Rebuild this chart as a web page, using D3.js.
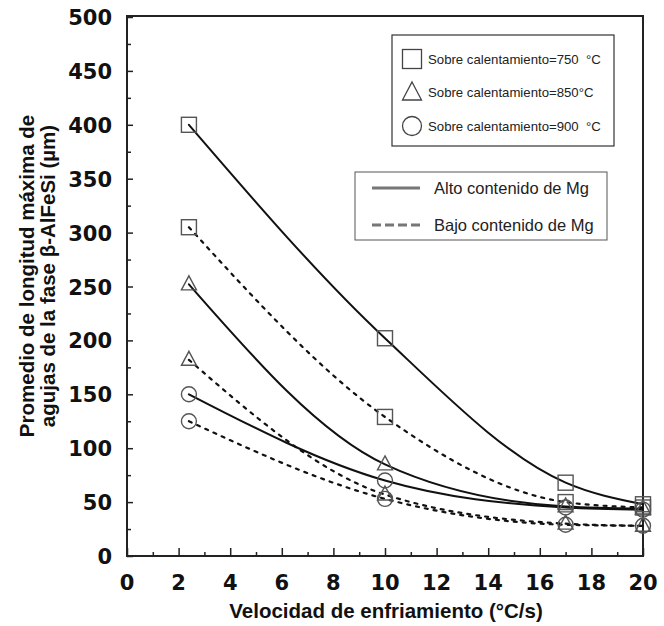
<!DOCTYPE html>
<html><head><meta charset="utf-8">
<script src="https://cdn.jsdelivr.net/npm/d3@7/dist/d3.min.js"></script>
<style>body{margin:0;background:#fff}</style>
</head><body>
<svg id="c" width="664" height="626"></svg>
<script>
const xVals = [2.4, 10, 17, 20];
const xTicks = [0,2,4,6,8,10,12,14,16,18,20];
const yTicks = [0,50,100,150,200,250,300,350,400,450,500];
const s750Alto = [400, 202, 68, 48];
const s750Bajo = [305, 129, 50, 45];
const s850Alto = [252, 85, 46, 44];
const s850Bajo = [182, 57, 30, 28];
const s900Alto = [150, 70, 45, 43];
const s900Bajo = [125, 53, 29, 28];
const legendMarkers = ["Sobre calentamiento=750  \u00b0C","Sobre calentamiento=850\u00b0C","Sobre calentamiento=900  \u00b0C"];
const legendLines = ["Alto contenido de Mg","Bajo contenido de Mg"];

const series = [
  {v:s750Alto, shape:"square", dash:false},
  {v:s750Bajo, shape:"square", dash:true},
  {v:s850Alto, shape:"triangle", dash:false},
  {v:s850Bajo, shape:"triangle", dash:true},
  {v:s900Alto, shape:"circle", dash:false},
  {v:s900Bajo, shape:"circle", dash:true}
];

const svg = d3.select("#c");
const L=127, R=643, T=17, B=556;
const x = d3.scaleLinear().domain([0,20]).range([L,R]);
const y = d3.scaleLinear().domain([0,500]).range([B,T]);
const font = "Liberation Sans, Arial, sans-serif";
const tickFont = "DejaVu Sans, sans-serif";

// frame
svg.append("rect").attr("x",L).attr("y",T-1).attr("width",R-L).attr("height",B-T+1)
  .attr("fill","none").attr("stroke","#222").attr("stroke-width",2);

// y axis
const yAx = svg.append("g").attr("transform",`translate(${L},0)`)
  .call(d3.axisRight(y).tickValues(d3.range(0,501,25)).tickSize(0).tickFormat(""));
yAx.select(".domain").remove();
yAx.selectAll(".tick line").attr("x2",d=>d%50===0?6:4).attr("stroke","#222").attr("stroke-width",1.5);
svg.append("g").selectAll("text").data(yTicks).join("text")
  .attr("x",112).attr("y",d=>y(d)+8).attr("text-anchor","end")
  .attr("font-family",tickFont).attr("font-weight","bold")
  .attr("font-size",21).attr("fill","#111").text(d=>d);

// x axis
const xAx = svg.append("g").attr("transform",`translate(0,${B})`)
  .call(d3.axisTop(x).tickValues(d3.range(0,21,1)).tickSize(0).tickFormat(""));
xAx.select(".domain").remove();
xAx.selectAll(".tick line").attr("y2",d=>d%2===0?-8:-4).attr("stroke","#222").attr("stroke-width",1.5);
svg.append("g").selectAll("text").data(xTicks).join("text")
  .attr("x",d=>x(d)).attr("y",B+34).attr("text-anchor","middle")
  .attr("font-family",tickFont).attr("font-weight","bold")
  .attr("font-size",21).attr("fill","#111").text(d=>d);

// axis titles
svg.append("text").attr("x",386).attr("y",618).attr("text-anchor","middle")
  .attr("font-family",font).attr("font-weight","bold")
  .attr("font-size",20.5).attr("fill","#111").text("Velocidad de enfriamiento (\u00b0C/s)");
const yt = svg.append("text").attr("transform","translate(0,276) rotate(-90)")
  .attr("text-anchor","middle").attr("font-family",font)
  .attr("font-weight","bold").attr("font-size",20.5).attr("fill","#111");
yt.append("tspan").attr("x",0).attr("y",34).text("Promedio de longitud m\u00e1xima de");
yt.append("tspan").attr("x",0).attr("y",55).text("agujas de la fase \u03b2-AlFeSi (\u00b5m)");

// curves
const line = d3.line().x(d=>x(d[0])).y(d=>y(d[1])).curve(d3.curveMonotoneX);
svg.append("g").selectAll("path").data(series).join("path")
  .attr("d",s=>line(xVals.map((xv,i)=>[xv,s.v[i]])))
  .attr("fill","none").attr("stroke","#111").attr("stroke-width",d=>d.dash?2.2:2)
  .attr("stroke-dasharray",d=>d.dash?"3,6":null).attr("stroke-linecap","round");

// markers
function drawMarker(g, shape, cx, cy, r){
  if(shape==="square") g.append("rect").attr("x",cx-r).attr("y",cy-r).attr("width",2*r).attr("height",2*r);
  else if(shape==="triangle") g.append("path").attr("d",`M${cx},${cy-r-1}L${cx+r},${cy+r-2}L${cx-r},${cy+r-2}Z`);
  else g.append("circle").attr("cx",cx).attr("cy",cy).attr("r",r);
}
const mg = svg.append("g").attr("fill","none").attr("stroke","#555").attr("stroke-width",1.4);
series.forEach(s=>{
  xVals.forEach((xv,i)=>drawMarker(mg, s.shape, x(xv), y(s.v[i]), 7.5));
});

// legend 1
svg.append("rect").attr("x",392).attr("y",35).attr("width",222).attr("height",111)
  .attr("fill","#fff").attr("stroke","#333").attr("stroke-width",1.2);
const lg1 = svg.append("g");
const shapes = ["square","triangle","circle"];
legendMarkers.forEach((t,i)=>{
  const cy = 59 + i*33.5;
  const g = lg1.append("g").attr("fill","none").attr("stroke","#444").attr("stroke-width",1.3);
  drawMarker(g, shapes[i], 412, cy, 9.5);
  lg1.append("text").attr("x",428).attr("y",cy+4.5).attr("font-family",font)
    .attr("font-size",13.2).attr("fill","#222").style("white-space","pre").text(t);
});

// legend 2
svg.append("rect").attr("x",355).attr("y",172).attr("width",252).attr("height",68)
  .attr("fill","#fff").attr("stroke","#555").attr("stroke-width",1);
legendLines.forEach((t,i)=>{
  const cy = 188 + i*37;
  svg.append("line").attr("x1",372).attr("x2",420).attr("y1",cy).attr("y2",cy)
    .attr("stroke","#777").attr("stroke-width",3).attr("stroke-dasharray",i? "9,4":null);
  svg.append("text").attr("x",434).attr("y",cy+6).attr("font-family",font)
    .attr("font-size",16.5).attr("fill","#222").text(t);
});
</script>
</body></html>
